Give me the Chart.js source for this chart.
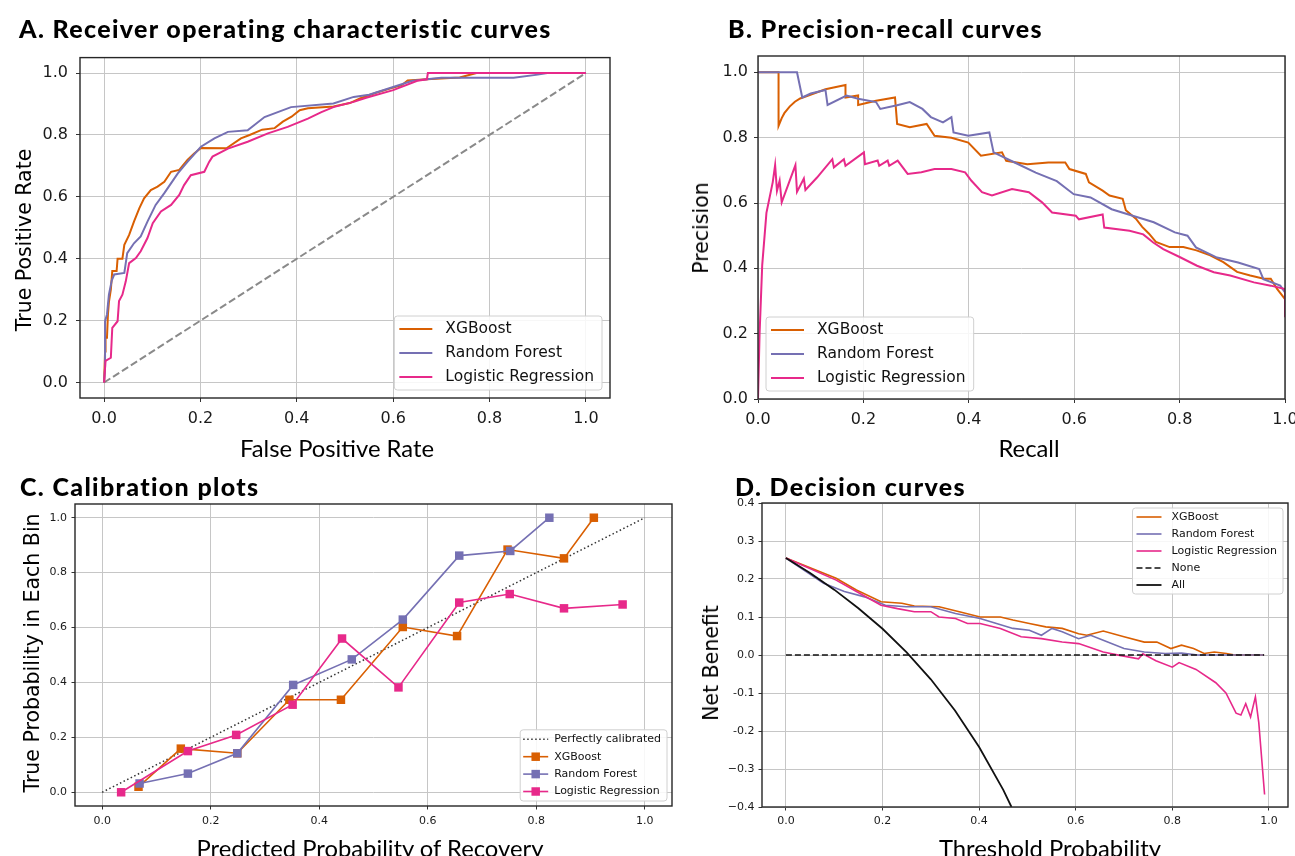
<!DOCTYPE html>
<html><head><meta charset="utf-8">
<script src="https://cdn.jsdelivr.net/npm/chart.js@4.4.0/dist/chart.umd.min.js"></script>
<style>
html,body{margin:0;padding:0;background:#fff;}
body{width:1295px;height:856px;overflow:hidden;position:relative;}
canvas{position:absolute;z-index:1;}
.t{position:absolute;white-space:nowrap;color:#000;line-height:1;z-index:2;font-variant-ligatures:none;font-feature-settings:"liga" 0,"clig" 0;}
.pt{font:900 25px Lato, sans-serif;letter-spacing:1.35px;}
.xt{font:400 23.8px Lato, sans-serif;transform:translateX(-50%);}
.yt{font:400 20.5px 'DejaVu Sans', sans-serif;transform:translate(-50%,-50%) rotate(-90deg);}
</style></head><body>
<div class="t pt" style="left:19px;top:13px">A. Receiver operating characteristic curves</div>
<div class="t pt" style="left:728px;top:13px">B. Precision-recall curves</div>
<div class="t pt" style="left:20px;top:471px">C. Calibration plots</div>
<div class="t pt" style="left:735px;top:471px">D. Decision curves</div>
<div class="t xt" style="left:337px;top:434px">False Positive Rate</div>
<div class="t xt" style="left:1029px;top:434px">Recall</div>
<div class="t xt" style="left:370px;top:834px">Predicted Probability of Recovery</div>
<div class="t xt" style="left:1050px;top:834px">Threshold Probability</div>
<div class="t yt" style="left:24px;top:240px">True Positive Rate</div>
<div class="t yt" style="left:701px;top:228px">Precision</div>
<div class="t yt" style="left:32px;top:653px">True Probability in Each Bin</div>
<div class="t yt" style="left:711px;top:663px">Net Benefit</div>
<canvas id="cA" width="650" height="420" style="left:0;top:40px"></canvas>
<canvas id="cB" width="660" height="420" style="left:650px;top:40px"></canvas>
<canvas id="cC" width="700" height="396" style="left:0;top:460px"></canvas>
<canvas id="cD" width="610" height="396" style="left:700px;top:460px"></canvas>
<script>
// ---------- DATA ----------
const seriesNames = ['XGBoost', 'Random Forest', 'Logistic Regression'];
const unitTicks = [0, 0.2, 0.4, 0.6, 0.8, 1.0];
const unitTickLabels = ['0.0', '0.2', '0.4', '0.6', '0.8', '1.0'];
const nbTicks = [0.4, 0.3, 0.2, 0.1, 0.0, -0.1, -0.2, -0.3, -0.4];
const nbTickLabels = ['0.4', '0.3', '0.2', '0.1', '0.0', '-0.1', '-0.2', '\u22120.3', '\u22120.4'];

// A. ROC curves
const rocXgbFpr = [0,0.002,0.003,0.006,0.008,0.010,0.014,0.017,0.026,0.028,0.038,0.042,0.052,0.062,0.073,0.083,0.097,0.111,0.125,0.139,0.156,0.173,0.187,0.201,0.254,0.284,0.302,0.328,0.354,0.371,0.389,0.406,0.423,0.476,0.51,0.531,0.566,0.60,0.617,0.63,0.67,0.738,0.773,1.0];
const rocXgbTpr = [0,0.10,0.145,0.145,0.22,0.26,0.30,0.36,0.36,0.40,0.40,0.445,0.477,0.52,0.563,0.595,0.622,0.633,0.649,0.681,0.687,0.719,0.74,0.758,0.757,0.789,0.80,0.817,0.822,0.843,0.859,0.88,0.886,0.892,0.903,0.918,0.937,0.953,0.96,0.976,0.98,0.986,1.0,1.0];
const rocRfFpr = [0,0.002,0.002,0.006,0.010,0.016,0.021,0.042,0.048,0.062,0.076,0.090,0.107,0.125,0.153,0.173,0.201,0.229,0.257,0.298,0.333,0.388,0.476,0.518,0.55,0.60,0.64,0.70,0.85,0.90,0.92,1.0];
const rocRfTpr = [0,0.05,0.198,0.22,0.284,0.33,0.349,0.354,0.418,0.45,0.472,0.52,0.574,0.612,0.676,0.713,0.762,0.789,0.81,0.815,0.858,0.89,0.902,0.923,0.93,0.955,0.975,0.985,0.985,0.995,1.0,1.0];
const rocLrFpr = [0,0.003,0.014,0.017,0.028,0.031,0.038,0.045,0.052,0.066,0.076,0.090,0.101,0.118,0.139,0.156,0.166,0.180,0.208,0.218,0.225,0.257,0.298,0.34,0.381,0.423,0.451,0.476,0.518,0.544,0.60,0.65,0.67,0.672,1.0];
const rocLrTpr = [0,0.07,0.08,0.177,0.198,0.263,0.284,0.327,0.386,0.402,0.424,0.467,0.515,0.553,0.574,0.606,0.638,0.67,0.681,0.713,0.73,0.756,0.778,0.805,0.826,0.853,0.874,0.89,0.907,0.92,0.945,0.975,0.98,1.0,1.0];
const rocChanceX = [0, 1];
const rocChanceY = [0, 1];

// B. Precision-recall curves
const prXgbRecall = [0,0.039,0.039,0.045,0.05,0.06,0.07,0.08,0.128,0.166,0.166,0.19,0.19,0.224,0.26,0.264,0.288,0.32,0.335,0.367,0.399,0.423,0.463,0.471,0.511,0.551,0.583,0.591,0.622,0.628,0.654,0.667,0.692,0.698,0.717,0.729,0.742,0.755,0.781,0.807,0.832,0.858,0.883,0.909,0.934,0.96,0.973,0.985,1.0,1.0];
const prXgbPrecision = [1,1,0.836,0.86,0.875,0.895,0.91,0.92,0.948,0.961,0.923,0.929,0.9,0.913,0.923,0.842,0.832,0.842,0.806,0.8,0.785,0.745,0.755,0.729,0.719,0.724,0.724,0.704,0.689,0.663,0.638,0.623,0.613,0.578,0.552,0.527,0.506,0.481,0.465,0.465,0.455,0.44,0.419,0.389,0.378,0.368,0.368,0.337,0.306,0.286];
const prRfRecall = [0,0.074,0.084,0.10,0.128,0.132,0.168,0.19,0.224,0.232,0.264,0.288,0.312,0.328,0.351,0.367,0.371,0.399,0.439,0.447,0.487,0.527,0.567,0.599,0.631,0.671,0.711,0.751,0.791,0.815,0.831,0.871,0.911,0.951,0.959,0.991,1.0,1.0];
const prRfPrecision = [1,1,0.923,0.935,0.946,0.9,0.929,0.919,0.909,0.888,0.899,0.909,0.888,0.863,0.847,0.863,0.816,0.806,0.816,0.755,0.724,0.693,0.667,0.627,0.617,0.581,0.561,0.541,0.51,0.5,0.464,0.433,0.418,0.398,0.367,0.347,0.326,0.26];
const prLrRecall = [0,0.003,0.008,0.016,0.028,0.0325,0.036,0.041,0.045,0.071,0.074,0.087,0.09,0.112,0.141,0.144,0.163,0.166,0.201,0.203,0.227,0.23,0.246,0.249,0.265,0.284,0.31,0.335,0.367,0.393,0.405,0.425,0.444,0.482,0.514,0.539,0.558,0.603,0.609,0.654,0.657,0.705,0.731,0.75,0.769,0.801,0.833,0.865,0.896,0.941,0.973,1.0,1.0];
const prLrPrecision = [0,0.2,0.41,0.57,0.664,0.716,0.637,0.668,0.602,0.716,0.634,0.675,0.64,0.678,0.734,0.709,0.734,0.714,0.755,0.719,0.73,0.714,0.73,0.714,0.73,0.689,0.694,0.704,0.704,0.694,0.668,0.633,0.623,0.643,0.633,0.602,0.571,0.561,0.55,0.565,0.525,0.515,0.504,0.479,0.459,0.434,0.408,0.388,0.378,0.357,0.347,0.337,0.25];

// C. Calibration plots
const calPerfectX = [0, 1];
const calPerfectY = [0, 1];
const calXgbPred = [0.067,0.145,0.249,0.345,0.44,0.554,0.654,0.747,0.851,0.906];
const calXgbTrue = [0.02,0.159,0.142,0.337,0.337,0.602,0.569,0.884,0.852,1.0];
const calRfPred = [0.069,0.158,0.249,0.352,0.46,0.554,0.658,0.752,0.824];
const calRfTrue = [0.032,0.068,0.142,0.391,0.484,0.629,0.862,0.879,1.0];
const calLrPred = [0.035,0.158,0.247,0.351,0.442,0.546,0.658,0.751,0.851,0.959];
const calLrTrue = [0.0,0.150,0.209,0.319,0.56,0.382,0.691,0.722,0.670,0.684];

// D. Decision curves
const dcXgbThr = [0,0.104,0.146,0.197,0.24,0.266,0.317,0.359,0.402,0.444,0.47,0.504,0.538,0.572,0.606,0.623,0.657,0.70,0.742,0.768,0.797,0.819,0.844,0.866,0.887,0.912,0.929,0.99];
const dcXgbNb = [0.255,0.202,0.171,0.14,0.136,0.129,0.127,0.114,0.1,0.1,0.092,0.083,0.074,0.07,0.056,0.052,0.063,0.048,0.034,0.034,0.017,0.026,0.017,0.004,0.008,0.004,0.0,0.0];
const dcRfThr = [0,0.078,0.121,0.163,0.206,0.249,0.30,0.351,0.402,0.436,0.47,0.504,0.529,0.551,0.572,0.606,0.631,0.657,0.70,0.742,0.785,0.819,0.853,0.99];
const dcRfNb = [0.255,0.189,0.167,0.153,0.131,0.127,0.127,0.109,0.096,0.083,0.07,0.065,0.052,0.07,0.061,0.043,0.052,0.039,0.017,0.008,0.004,0.005,0.0,0.0];
const dcLrThr = [0,0.104,0.146,0.197,0.231,0.266,0.30,0.317,0.351,0.376,0.402,0.444,0.487,0.529,0.572,0.606,0.657,0.691,0.73,0.739,0.766,0.80,0.814,0.849,0.89,0.911,0.932,0.942,0.952,0.962,0.972,0.979,0.991];
const dcLrNb = [0.255,0.197,0.167,0.131,0.122,0.114,0.114,0.1,0.096,0.083,0.083,0.07,0.048,0.043,0.034,0.03,0.008,-0.001,-0.01,0.003,-0.015,-0.032,-0.02,-0.038,-0.073,-0.1,-0.153,-0.158,-0.128,-0.163,-0.11,-0.178,-0.367];
const dcNoneThr = [0, 0.99];
const dcNoneNb = [0, 0];
const dcAllThr = [0,0.05,0.10,0.15,0.20,0.25,0.30,0.35,0.40,0.45,0.467];
const dcAllNb = [0.255,0.216,0.172,0.123,0.069,0.007,-0.064,-0.146,-0.242,-0.355,-0.40];

// ---------- STYLE ----------
const C_XGB = '#d95f02', C_RF = '#7570b3', C_LR = '#e7298a';
const pts = (xs, ys) => xs.map((x, i) => ({x: x, y: ys[i]}));

Chart.defaults.font.family = "'DejaVu Sans', sans-serif";
Chart.defaults.color = '#111';

const framePlugin = {
  id: 'frame',
  afterDatasetsDraw(chart, args, o) {
    const {ctx, chartArea: a} = chart;
    ctx.save();
    ctx.strokeStyle = o.color || '#222';
    ctx.lineWidth = o.width || 1.3;
    ctx.strokeRect(a.left, a.top, a.right - a.left, a.bottom - a.top);
    ctx.restore();
  }
};

const boxLegend = {
  id: 'boxLegend',
  afterDraw(chart, args, o) {
    const {ctx, chartArea: a} = chart;
    const items = chart.data.datasets.filter(d => d.label);
    ctx.save();
    ctx.font = o.size + "px 'DejaVu Sans'";
    const tw = Math.max(...items.map(d => ctx.measureText(d.label).width));
    const w = o.padL + o.sample + o.gap + tw + o.padR;
    const h = 2 * o.padY + (items.length - 1) * o.rowH;
    const x = o.loc.indexOf('right') >= 0 ? a.right - o.margin - w : a.left + o.margin;
    const y = o.loc.indexOf('lower') >= 0 ? a.bottom - o.margin - h : a.top + o.margin;
    ctx.beginPath();
    ctx.roundRect(x, y, w, h, 3);
    ctx.fillStyle = 'rgba(255,255,255,0.85)';
    ctx.fill();
    ctx.strokeStyle = '#d0d0d0';
    ctx.lineWidth = 1;
    ctx.stroke();
    items.forEach((d, i) => {
      const cy = y + o.padY + i * o.rowH;
      const x0 = x + o.padL, x1 = x0 + o.sample;
      ctx.beginPath();
      ctx.setLineDash(d.borderDash || []);
      ctx.strokeStyle = d.borderColor;
      ctx.lineWidth = d.borderWidth;
      ctx.moveTo(x0, cy); ctx.lineTo(x1, cy);
      ctx.stroke();
      ctx.setLineDash([]);
      if (d.pointRadius > 0) {
        const s = d.pointRadius * Math.SQRT1_2;
        ctx.fillStyle = d.backgroundColor;
        ctx.fillRect((x0 + x1) / 2 - s, cy - s, 2 * s, 2 * s);
      }
      ctx.fillStyle = '#111';
      ctx.textBaseline = 'middle';
      ctx.textAlign = 'left';
      ctx.fillText(d.label, x1 + o.gap, cy);
    });
    ctx.restore();
  }
};

function scale(axis, min, max, tickVals, tickLabels, fit, size, tl, pad) {
  return {
    type: 'linear', min: min, max: max,
    afterBuildTicks: s => { s.ticks = tickVals.map(v => ({value: v})); },
    afterFit: s => { if (axis === 'x') s.height = fit; else s.width = fit; },
    ticks: {
      autoSkip: false, maxRotation: 0, minRotation: 0, padding: pad,
      color: '#1a1a1a', font: {size: size},
      callback: v => { const i = tickVals.findIndex(t => Math.abs(t - v) < 1e-9); return i >= 0 ? tickLabels[i] : ''; }
    },
    grid: {color: '#c6c6c6', lineWidth: 1, drawTicks: true, tickLength: tl, tickColor: '#333', tickWidth: 1},
    border: {display: false}
  };
}

function line(label, xs, ys, color, width, extra) {
  return Object.assign({
    label: label, data: pts(xs, ys), showLine: true, borderColor: color, backgroundColor: color,
    borderWidth: width, pointRadius: 0, pointHoverRadius: 0, fill: false, tension: 0
  }, extra || {});
}

function make(id, datasets, scales, padding, legendOpts) {
  return new Chart(document.getElementById(id), {
    type: 'scatter',
    data: {datasets: datasets},
    options: {
      responsive: false, animation: false, devicePixelRatio: 1, events: [],
      layout: {padding: padding},
      scales: scales,
      plugins: {legend: {display: false}, tooltip: {enabled: false}, title: {display: false},
        frame: {color: '#262626', width: 1.4}, boxLegend: legendOpts}
    },
    plugins: [framePlugin, boxLegend]
  });
}

// A
make('cA', [
  line('', rocChanceX, rocChanceY, '#8a8a8a', 2, {borderDash: [7.4, 3.2], order: 4}),
  line(seriesNames[0], rocXgbFpr, rocXgbTpr, C_XGB, 2, {order: 3}),
  line(seriesNames[1], rocRfFpr, rocRfTpr, C_RF, 2, {order: 2}),
  line(seriesNames[2], rocLrFpr, rocLrTpr, C_LR, 2, {order: 1})
], {
  x: scale('x', -0.05, 1.05, unitTicks, unitTickLabels, 62, 16, 4, 7),
  y: scale('y', -0.05, 1.05, unitTicks, unitTickLabels, 80, 16, 4, 8)
}, {top: 15, right: 40, bottom: 0, left: 0},
{loc: 'lower right', margin: 8, size: 15.5, rowH: 24, padY: 13, padL: 5, sample: 33, gap: 13, padR: 8});

// B
make('cB', [
  line(seriesNames[0], prXgbRecall, prXgbPrecision, C_XGB, 2, {order: 3}),
  line(seriesNames[1], prRfRecall, prRfPrecision, C_RF, 2, {order: 2}),
  line(seriesNames[2], prLrRecall, prLrPrecision, C_LR, 2, {order: 1})
], {
  x: scale('x', 0, 1, unitTicks, unitTickLabels, 61, 16, 4, 7),
  y: scale('y', 0, 1.05, unitTicks, unitTickLabels, 108, 16, 4, 6)
}, {top: 16, right: 25, bottom: 0, left: 0},
{loc: 'lower left', margin: 8, size: 15.5, rowH: 24, padY: 13, padL: 5, sample: 33, gap: 13, padR: 8});

// C
const sq = c => ({pointStyle: 'rect', pointRadius: 6, pointBorderWidth: 0, pointBackgroundColor: c});
make('cC', [
  line('Perfectly calibrated', calPerfectX, calPerfectY, '#333', 1.5, {borderDash: [1.5, 2.5], order: 4}),
  line(seriesNames[0], calXgbPred, calXgbTrue, C_XGB, 1.6, Object.assign({order: 3}, sq(C_XGB))),
  line(seriesNames[1], calRfPred, calRfTrue, C_RF, 1.6, Object.assign({order: 2}, sq(C_RF))),
  line(seriesNames[2], calLrPred, calLrTrue, C_LR, 1.6, Object.assign({order: 1}, sq(C_LR)))
], {
  x: scale('x', -0.05, 1.05, unitTicks, unitTickLabels, 50, 11, 3.5, 5),
  y: scale('y', -0.05, 1.05, unitTicks, unitTickLabels, 75, 11, 3.5, 4.5)
}, {top: 44, right: 28, bottom: 0, left: 0},
{loc: 'lower right', margin: 5, size: 11, rowH: 17.4, padY: 9.5, padL: 3, sample: 25, gap: 6, padR: 6});

// D
make('cD', [
  line(seriesNames[0], dcXgbThr, dcXgbNb, C_XGB, 1.6, {order: 5}),
  line(seriesNames[1], dcRfThr, dcRfNb, C_RF, 1.6, {order: 4}),
  line(seriesNames[2], dcLrThr, dcLrNb, C_LR, 1.6, {order: 3}),
  line('None', dcNoneThr, dcNoneNb, '#111', 1.6, {borderDash: [6, 3], order: 2}),
  line('All', dcAllThr, dcAllNb, '#111', 1.8, {order: 1})
], {
  x: scale('x', -0.0495, 1.0395, unitTicks, unitTickLabels, 49, 11, 3.5, 4),
  y: scale('y', -0.4, 0.4, nbTicks, nbTickLabels, 62, 11, 3.5, 4)
}, {top: 43, right: 22, bottom: 0, left: 0},
{loc: 'upper right', margin: 5, size: 11, rowH: 17, padY: 9, padL: 4, sample: 25, gap: 10, padR: 6});
</script>
</body></html>
